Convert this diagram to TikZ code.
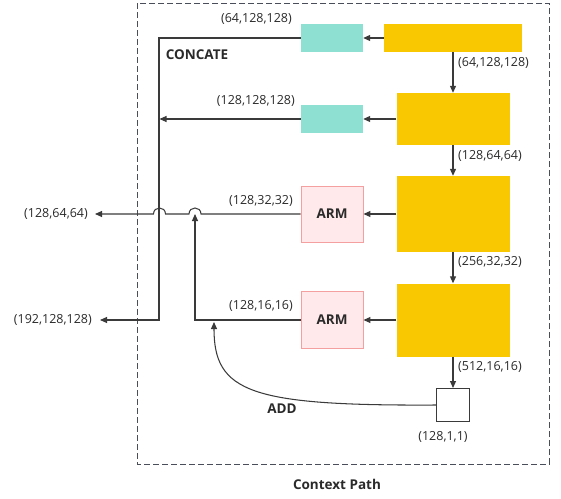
\documentclass[tikz,border=0pt]{standalone}
\usepackage{fontspec}
\setmainfont{Open Sans}
\usetikzlibrary{arrows.meta}
\definecolor{ylw}{HTML}{F9C800}
\definecolor{tealc}{HTML}{8EE0D3}
\definecolor{armfill}{HTML}{FFE9EA}
\definecolor{armdraw}{HTML}{F4A0A0}
\definecolor{linec}{HTML}{3A3A3A}
\definecolor{txtc}{HTML}{2A2A2A}
\definecolor{borderc}{HTML}{4A4E5A}
\begin{document}
\begin{tikzpicture}[x=1pt,y=-1pt,
  ybox/.style={fill=ylw,draw=none,inner sep=0pt},
  tbox/.style={fill=tealc,draw=none,inner sep=0pt,minimum width=62pt,minimum height=28pt},
  armbox/.style={fill=armfill,draw=armdraw,line width=0.9pt,inner sep=0pt,minimum width=62pt,minimum height=56pt,font=\fontsize{13.5}{15}\selectfont\bfseries,text=txtc},
  wbox/.style={fill=white,draw=linec,line width=1pt,inner sep=0pt,minimum width=33pt,minimum height=33pt},
  conn/.style={draw=linec,line width=1.05pt},
  arr/.style={conn,-{Triangle[length=7pt,width=6pt]}},
  lbl/.style={font=\fontsize{12.5}{14}\selectfont,text=txtc,inner sep=0pt},
  blbl/.style={font=\fontsize{13.5}{15}\selectfont\bfseries,text=txtc,inner sep=0pt},
  frame/.style={draw=borderc,line width=0.9pt,dash pattern=on 6pt off 3pt}
]
\useasboundingbox (0,0) rectangle (561,498);
\draw[frame] (137,3) rectangle (549,464);

\node[ybox,minimum width=138pt,minimum height=28pt] (y1) at (453,38) {};
\node[ybox,minimum width=113pt,minimum height=52pt] (y2) at (453,119) {};
\node[ybox,minimum width=113pt,minimum height=76pt] (y3) at (453,214) {};
\node[ybox,minimum width=113pt,minimum height=73pt] (y4) at (453,320) {};
\node[tbox] (t1) at (332,38) {};
\node[tbox] (t2) at (332,119) {};
\node[armbox] (arm1) at (332,214) {ARM};
\node[armbox,minimum height=57pt] (arm2) at (332,320) {ARM};
\node[wbox] (wb) at (453,405) {};

\draw[arr] (y1.west) -- (t1.east);
\draw[arr] (y2.west) -- (t2.east);
\draw[arr] (y3.west) -- (arm1.east);
\draw[arr] (y4.west) -- (arm2.east);
\draw[arr] (y1.south) -- (y2.north);
\draw[arr] (y2.south) -- (y3.north);
\draw[arr] (y3.south) -- (y4.north);
\draw[arr] (y4.south) -- (wb.north);

\coordinate (outA) at (95,214);
\coordinate (outB) at (100,320);
\coordinate (vt) at (159,38);
\coordinate (vb) at (159,320);
\coordinate (t2end) at (159.5,119);

\draw[arr] (t1.west) -- (vt) -- (vb) -- (outB);
\draw[arr] (t2.west) -- (t2end);
\draw[arr] (arm1.west) -- (201,214) .. controls (201,206) and (189,206) .. (189,214)
  -- (165.5,214) .. controls (165.5,206) and (153.5,206) .. (153.5,214) -- (outA);
\draw[arr] (arm2.west) -- (195,320) -- (195,214);
\draw[arr] (wb.west) .. controls (250,406) and (214,392) .. (214,322);

\node[lbl,anchor=east] (lA) at (88,214) {(128,64,64)};
\node[lbl,anchor=east] (lB) at (92,320) {(192,128,128)};
\node[lbl,anchor=east] (l1) at (292,19) {(64,128,128)};
\node[lbl,anchor=east] (l2) at (295,101) {(128,128,128)};
\node[lbl,anchor=east] (l3) at (293,201) {(128,32,32)};
\node[lbl,anchor=east] (l4) at (293,306) {(128,16,16)};
\node[lbl,anchor=west] (r1) at (458,63) {(64,128,128)};
\node[lbl,anchor=west] (r2) at (458,156) {(128,64,64)};
\node[lbl,anchor=west] (r3) at (458,262) {(256,32,32)};
\node[lbl,anchor=west] (r4) at (458,367) {(512,16,16)};
\node[lbl] (r5) at (443,437) {(128,1,1)};
\node[blbl] (cc) at (197,55) {CONCATE};
\node[blbl] (add) at (282,409) {ADD};
\node[blbl,font=\fontsize{13.5}{15}\selectfont\bfseries] (cp) at (337,484) {Context Path};
\end{tikzpicture}
\end{document}
